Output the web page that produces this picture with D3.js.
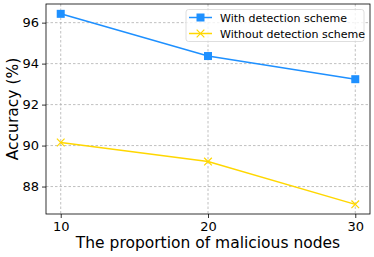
<!DOCTYPE html>
<html>
<head>
<meta charset="utf-8">
<script src="https://cdn.jsdelivr.net/npm/d3@7"></script>
<style>
  body { margin: 0; background: #fff; }
  text { font-family: "DejaVu Sans", sans-serif; fill: #000; }
</style>
</head>
<body>
<svg id="chart" width="374" height="257"></svg>
<script>
// data
const proportions = [10, 20, 30];
const withDetection = [96.43, 94.37, 93.24];
const withoutDetection = [90.15, 89.22, 87.13];
const yTicks = [88, 90, 92, 94, 96];
const seriesNames = ["With detection scheme", "Without detection scheme"];
const seriesColors = ["#1e90ff", "#ffd700"];

const svg = d3.select("#chart");
const margin = {top: 4, right: 4, bottom: 43, left: 46},
    width = 374 - margin.left - margin.right,
    height = 257 - margin.top - margin.bottom;

const g = svg.append("g")
    .attr("transform", "translate(" + margin.left + "," + margin.top + ")");

const x = d3.scaleLinear().domain([9, 31]).range([0, width]);
const y = d3.scaleLinear().domain([86.66, 96.91]).range([height, 0]);

// grid
g.append("g").selectAll("line").data(proportions).enter().append("line")
    .attr("x1", d => x(d)).attr("x2", d => x(d))
    .attr("y1", 0).attr("y2", height)
    .attr("stroke", "#b0b0b0").attr("stroke-width", 0.8)
    .attr("stroke-dasharray", "2.5,2");
g.append("g").selectAll("line").data(yTicks).enter().append("line")
    .attr("x1", 0).attr("x2", width)
    .attr("y1", d => y(d)).attr("y2", d => y(d))
    .attr("stroke", "#b0b0b0").attr("stroke-width", 0.8)
    .attr("stroke-dasharray", "2.5,2");

// axes
const xAxis = g.append("g")
    .attr("transform", "translate(0," + height + ")")
    .call(d3.axisBottom(x).tickValues(proportions).tickSizeOuter(0).tickSize(4).tickPadding(4));
const yAxis = g.append("g")
    .call(d3.axisLeft(y).tickValues(yTicks).tickSizeOuter(0).tickSize(4).tickPadding(3));
[xAxis, yAxis].forEach(a => {
  a.select(".domain").remove();
  a.selectAll("text").style("font-size", "13px").style("font-family", "DejaVu Sans");
  a.selectAll("line").attr("stroke", "#000").attr("stroke-width", 0.8);
});

// frame
g.append("rect")
    .attr("width", width).attr("height", height)
    .attr("fill", "none").attr("stroke", "#000").attr("stroke-width", 0.8);

// lines
const line = d3.line().x((d, i) => x(proportions[i])).y(d => y(d));
const series = [withDetection, withoutDetection];

series.forEach((vals, k) => {
  g.append("path").datum(vals)
      .attr("d", line)
      .attr("fill", "none")
      .attr("stroke", seriesColors[k])
      .attr("stroke-width", 1.5);
});

// markers
g.selectAll(".sq").data(withDetection).enter().append("rect")
    .attr("x", (d, i) => x(proportions[i]) - 4)
    .attr("y", d => y(d) - 4)
    .attr("width", 8).attr("height", 8)
    .attr("fill", seriesColors[0]);

const cross = d3.symbol().type(d3.symbolX).size(40);
g.selectAll(".x").data(withoutDetection).enter().append("path")
    .attr("d", cross)
    .attr("transform", (d, i) => "translate(" + x(proportions[i]) + "," + y(d) + ")")
    .attr("fill", "none")
    .attr("stroke", seriesColors[1])
    .attr("stroke-width", 1.2);

// legend
const legend = svg.append("g").attr("transform", "translate(186,9.5)");
legend.append("rect")
    .attr("width", 178).attr("height", 32).attr("rx", 2.5)
    .attr("fill", "#fff").attr("fill-opacity", 0.8)
    .attr("stroke", "#d6d6d6").attr("stroke-width", 0.8);
seriesNames.forEach((name, k) => {
  const cy = 8 + k * 16;
  legend.append("line")
      .attr("x1", 3).attr("x2", 26).attr("y1", cy).attr("y2", cy)
      .attr("stroke", seriesColors[k]).attr("stroke-width", 1.5);
  if (k === 0) {
    legend.append("rect")
        .attr("x", 14.5 - 4).attr("y", cy - 4).attr("width", 8).attr("height", 8)
        .attr("fill", seriesColors[k]);
  } else {
    legend.append("path").attr("d", cross)
        .attr("transform", "translate(14.5," + cy + ")")
        .attr("fill", "none").attr("stroke", seriesColors[k]).attr("stroke-width", 1.2);
  }
  legend.append("text")
      .attr("x", 34).attr("y", cy + 4)
      .style("font-size", "11px")
      .text(name);
});

// axis titles
svg.append("text")
    .attr("x", margin.left + width / 2).attr("y", 248)
    .attr("text-anchor", "middle")
    .style("font-size", "15.5px")
    .text("The proportion of malicious nodes");
svg.append("text")
    .attr("transform", "translate(18," + (margin.top + height / 2) + ") rotate(-90)")
    .attr("text-anchor", "middle")
    .style("font-size", "15.5px")
    .text("Accuracy (%)");
</script>
</body>
</html>
